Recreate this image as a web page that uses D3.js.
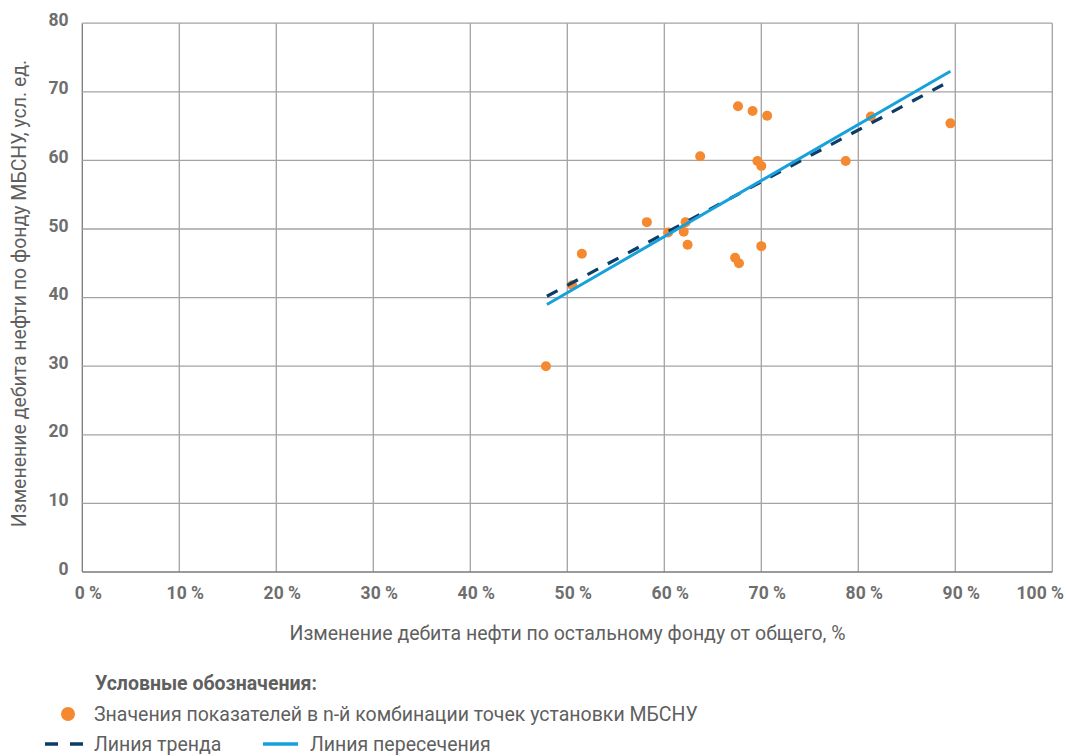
<!DOCTYPE html>
<html>
<head>
<meta charset="utf-8">
<script src="https://cdn.jsdelivr.net/npm/d3@7/dist/d3.min.js"></script>
<style>
  html, body { margin: 0; padding: 0; background: #fff; }
  svg { display: block; }
  .tick-label { font-family: "Roboto", "Noto Sans", sans-serif; font-weight: bold; font-size: 17.5px; fill: #6e6e6e; }
  .axis-title { font-family: "Roboto", "Noto Sans", sans-serif; font-size: 19.5px; fill: #5f5f5f; }
  .legend-text { font-family: "Roboto", "Noto Sans", sans-serif; font-size: 19.5px; fill: #5f5f5f; }
  .legend-head { font-family: "Roboto", "Noto Sans", sans-serif; font-size: 19.5px; font-weight: bold; fill: #5f5f5f; }
</style>
</head>
<body>
<script>
// Scatter points: share of oil rate change in the rest of the well stock (%) vs. MBSNU stock change (conv. units)
const pointShare = [47.8, 51.5, 50.5, 58.2, 60.4, 62.2, 62.0, 62.4, 63.7, 67.6, 69.1, 70.6, 69.6, 70.0, 67.3, 67.7, 70.0, 78.7, 81.3, 89.5];
const pointValue = [30.0, 46.4, 41.8, 51.0, 49.5, 51.0, 49.6, 47.7, 60.6, 67.9, 67.2, 66.5, 59.9, 59.2, 45.8, 45.0, 47.5, 59.9, 66.4, 65.4];

// Trend line end points
const trendShare = [47.9, 89.5];
const trendValue = [40.2, 71.6];

// Intersection line end points
const crossShare = [47.9, 89.5];
const crossValue = [39.0, 73.0];

// Axis ticks
const xTicks = [0, 10, 20, 30, 40, 50, 60, 70, 80, 90, 100];
const yTicks = [0, 10, 20, 30, 40, 50, 60, 70, 80];

const W = 1066, H = 756;
const svg = d3.select("body").append("svg").attr("width", W).attr("height", H);

const x = d3.scaleLinear().domain([0, 100]).range([82.3, 1052.3]);
const y = d3.scaleLinear().domain([0, 80]).range([572, 23.2]);

// Grid
const grid = svg.append("g");
grid.selectAll("line.v").data(xTicks).join("line")
  .attr("x1", d => x(d)).attr("x2", d => x(d))
  .attr("y1", y(0)).attr("y2", y(80))
  .attr("stroke", d => d === 0 ? "#7a7a7a" : "#a3a3a3").attr("stroke-width", 1.3);
grid.selectAll("line.h").data(yTicks).join("line")
  .attr("x1", x(0)).attr("x2", x(100))
  .attr("y1", d => y(d)).attr("y2", d => y(d))
  .attr("stroke", d => d === 0 ? "#7a7a7a" : "#a3a3a3").attr("stroke-width", 1.3);

// Tick labels
svg.append("g").selectAll("text").data(xTicks).join("text")
  .attr("class", "tick-label")
  .attr("x", d => d === 100 ? 1064 : x(d) + 6).attr("y", 599)
  .attr("text-anchor", d => d === 100 ? "end" : "middle")
  .text(d => d + " %");
svg.append("g").selectAll("text").data(yTicks).join("text")
  .attr("class", "tick-label")
  .attr("x", 68.5).attr("y", d => y(d) + 2.5)
  .attr("text-anchor", "end")
  .text(d => d);

// Axis titles
svg.append("text").attr("class", "axis-title")
  .attr("x", 567.5).attr("y", 640).attr("text-anchor", "middle")
  .text("Изменение дебита нефти по остальному фонду от общего, %");
svg.append("text").attr("class", "axis-title")
  .attr("transform", "translate(26,293.5) rotate(-90)")
  .attr("text-anchor", "middle")
  .text("Изменение дебита нефти по фонду МБСНУ, усл. ед.");

// Scatter points
svg.append("g").selectAll("circle").data(pointShare.map((s, i) => [s, pointValue[i]])).join("circle")
  .attr("cx", d => x(d[0])).attr("cy", d => y(d[1])).attr("r", 5)
  .attr("fill", "#f5892f");

// Lines
const line = d3.line().x(d => x(d[0])).y(d => y(d[1]));
svg.append("path")
  .datum(trendShare.map((s, i) => [s, trendValue[i]]))
  .attr("d", line).attr("fill", "none")
  .attr("stroke", "#0c3d66").attr("stroke-width", 3.2)
  .attr("stroke-dasharray", "12,11");
svg.append("path")
  .datum(crossShare.map((s, i) => [s, crossValue[i]]))
  .attr("d", line).attr("fill", "none")
  .attr("stroke", "#16a0dc").attr("stroke-width", 3);

// Legend
const lg = svg.append("g");
lg.append("text").attr("class", "legend-head").attr("x", 95).attr("y", 690).text("Условные обозначения:");
lg.append("circle").attr("cx", 68).attr("cy", 714).attr("r", 7).attr("fill", "#f5892f");
lg.append("text").attr("class", "legend-text").attr("x", 94).attr("y", 721)
  .text("Значения показателей в n-й комбинации точек установки МБСНУ");
lg.append("line").attr("x1", 45).attr("x2", 84).attr("y1", 744).attr("y2", 744)
  .attr("stroke", "#0c3d66").attr("stroke-width", 3.5).attr("stroke-dasharray", "13,12");
lg.append("text").attr("class", "legend-text").attr("x", 94).attr("y", 751).text("Линия тренда");
lg.append("line").attr("x1", 263).attr("x2", 298).attr("y1", 744).attr("y2", 744)
  .attr("stroke", "#16a0dc").attr("stroke-width", 3.5);
lg.append("text").attr("class", "legend-text").attr("x", 310).attr("y", 751).text("Линия пересечения");
</script>
</body>
</html>
